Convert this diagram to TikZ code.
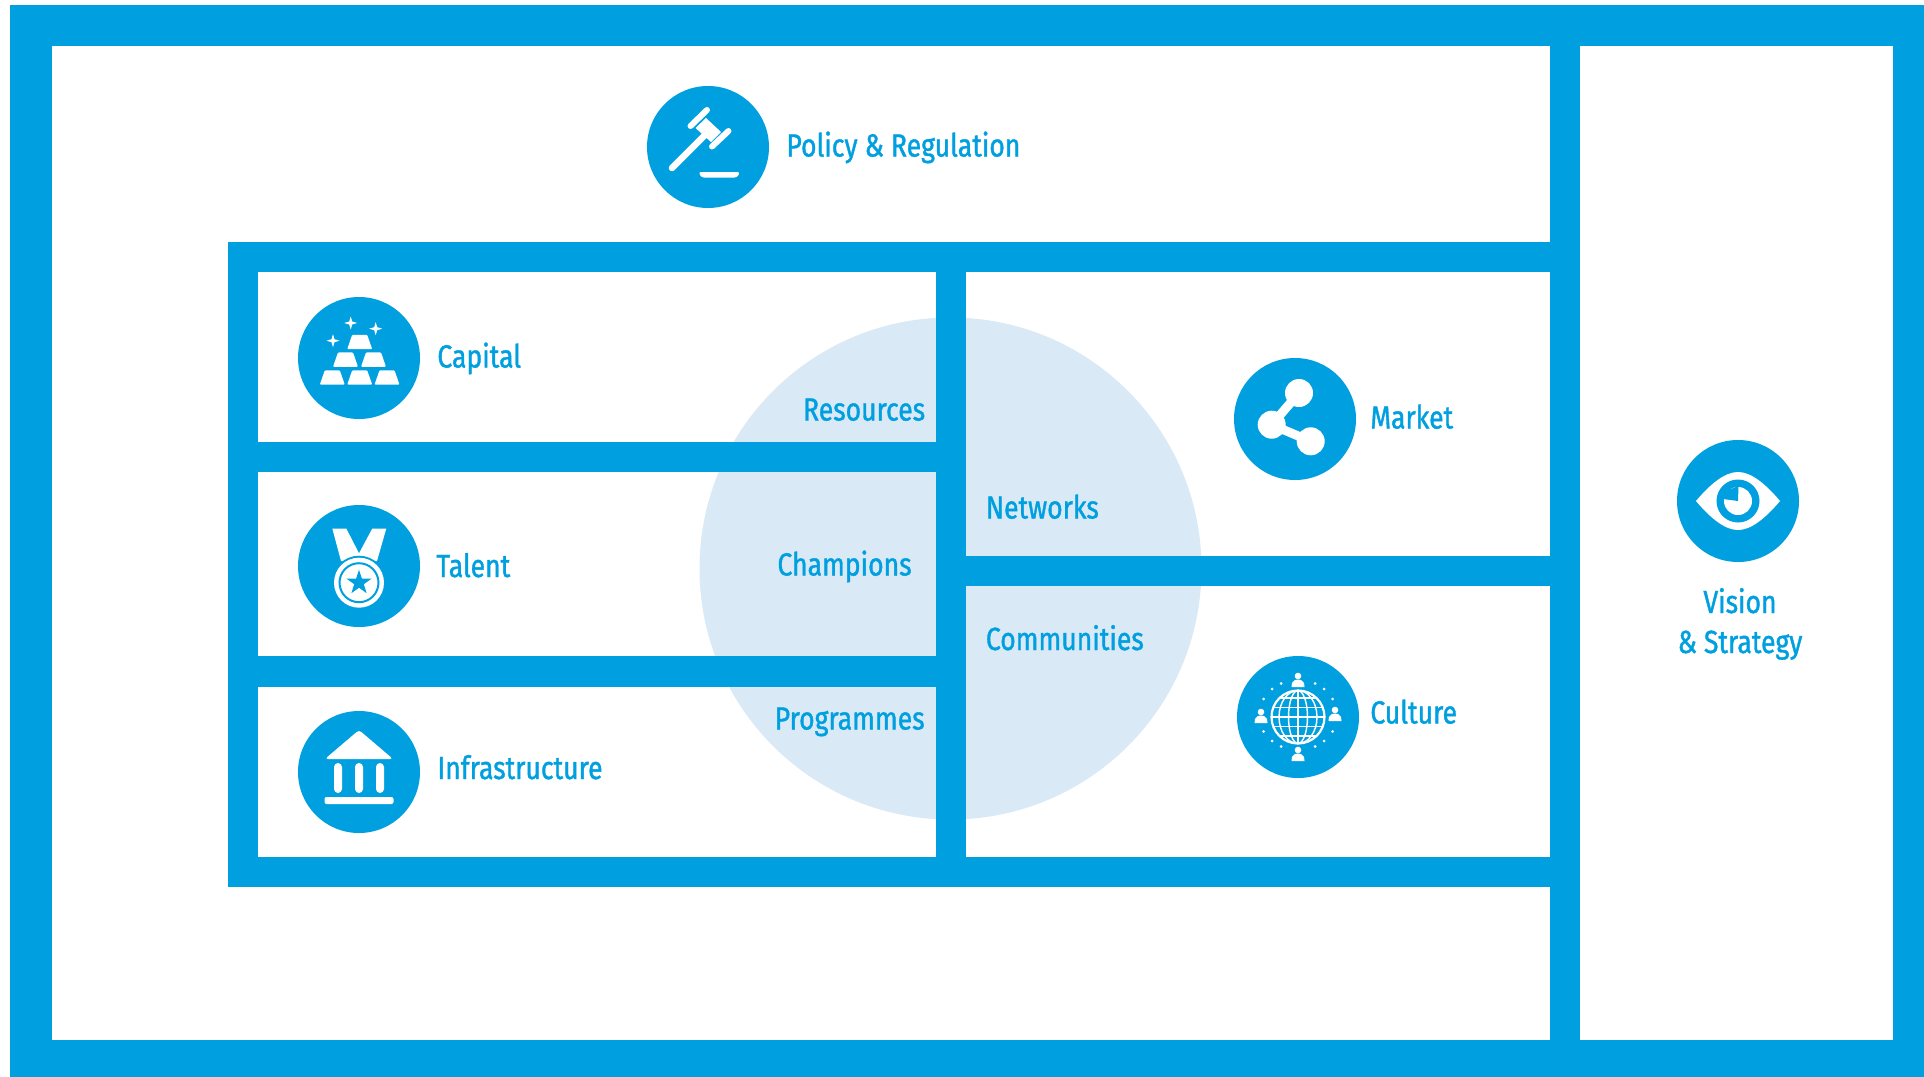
\documentclass[tikz,border=0pt]{standalone}
\usepackage{fontspec}
\setmainfont{Fira Sans}[FakeStretch=0.83,FakeBold=1.2]
\definecolor{brand}{RGB}{0,160,224}
\definecolor{pale}{RGB}{218,233,246}
\newcommand{\goldbar}[2]{\fill[white,rounded corners=0.5pt] (#1-12.5,#2+7.2) -- (#1-7.5,#2-7.2) -- (#1+7.5,#2-7.2) -- (#1+12.5,#2+7.2) -- cycle;}
\newcommand{\sparkle}[2]{\fill[white] (#1,#2-6.5) -- (#1+1.5,#2-1.5) -- (#1+6.5,#2) -- (#1+1.5,#2+1.5) -- (#1,#2+6.5) -- (#1-1.5,#2+1.5) -- (#1-6.5,#2) -- (#1-1.5,#2-1.5) -- cycle;}
\newcommand{\person}[2]{\fill[white] (#1,#2-4) circle[radius=3.3];
  \fill[white] (#1-6.5,#2+7) -- (#1-6,#2+3) .. controls (#1-5,#2) and (#1-2,#2-0.5) .. (#1,#2-0.5) .. controls (#1+2,#2-0.5) and (#1+5,#2) .. (#1+6,#2+3) -- (#1+6.5,#2+7) -- cycle;}
\tikzset{
  panel/.style={fill=white},
  bar/.style={fill=brand},
  icondisc/.style={circle,fill=brand,minimum size=61pt,inner sep=0pt},
  lab/.style={text=brand,font=\fontsize{16}{19}\selectfont,inner sep=0pt,anchor=base west},
  labr/.style={lab,anchor=base east},
  labc/.style={lab,anchor=base},
  cut/.style={draw=white,line cap=round}
}
\begin{document}
\begin{tikzpicture}[x=0.5pt,y=-0.5pt]
\useasboundingbox (0,0) rectangle (1924,1077);
% frame
\fill[white] (0,0) rectangle (1924,1077);
\fill[bar] (10,5) rectangle (1924,1077);
\fill[panel] (52,46) rectangle (1550,1040);
\fill[panel] (1580,46) rectangle (1893,1040);
\fill[bar] (228,242) rectangle (1550,887);
\fill[panel] (258,272) rectangle (936,442);
\fill[panel] (258,472) rectangle (936,656);
\fill[panel] (258,687) rectangle (936,857);
\fill[panel] (966,272) rectangle (1550,556);
\fill[panel] (966,586) rectangle (1550,857);
% pale disc
\fill[pale] (950.5,568.5) circle[radius=251];
\fill[bar] (936,272) rectangle (966,857);
\fill[bar] (258,442) rectangle (936,472);
\fill[bar] (258,656) rectangle (936,687);
\fill[bar] (966,556) rectangle (1550,586);
% discs
\node[icondisc] (policy) at (708,147) {};
\node[icondisc] (capital) at (359,358) {};
\node[icondisc] (talent) at (359,566) {};
\node[icondisc] (infra) at (359,772) {};
\node[icondisc] (market) at (1295,419) {};
\node[icondisc] (culture) at (1298,717) {};
\node[icondisc] (vision) at (1738,501) {};
% gavel
\begin{scope}[shift={(708,147)}]
  \draw[cut,line width=3.3pt] (-36,21) -- (-3,-12);
  \draw[cut,line width=3pt] (-17.5,-21) -- (-1,-37);
  \draw[cut,line width=3pt] (4,-0.5) -- (20.5,-16);
  \fill[white] (-12.5,-19) -- (-2,-29) -- (13,-15) -- (3,-5) -- cycle;
  \fill[white,rounded corners=1.2pt] (-9.5,25) -- (32,25) -- (29,30.5) -- (-6.5,30.5) -- cycle;
\end{scope}
% gold bars
\begin{scope}[shift={(359,358)}]
  \goldbar{-26.7}{19.5}\goldbar{0.7}{19.5}\goldbar{28}{19.5}
  \goldbar{-13.5}{1.6}\goldbar{14.5}{1.6}
  \goldbar{0.7}{-16}
  \sparkle{-8.3}{-35}\sparkle{16.7}{-29.3}\sparkle{-26}{-17.3}
\end{scope}
% medal
\begin{scope}[shift={(359,566)}]
  \fill[white] (-26.7,-37.5) -- (-12.7,-37.5) -- (0,-12.7) -- (13.3,-37.5) -- (27.3,-37.5) -- (18,-5) -- (-18,-5) -- cycle;
  \fill[brand] (0,16.7) circle[radius=27];
  \fill[white] (0,16.7) circle[radius=25];
  \draw[brand,line width=1pt] (0,16.7) circle[radius=19.5];
  \begin{scope}[shift={(0,16.7)}]
    \fill[brand] (0,-13) -- (2.9,-4) -- (12.4,-4) -- (4.8,1.5) -- (7.6,10.5) -- (0,5) -- (-7.6,10.5) -- (-4.8,1.5) -- (-12.4,-4) -- (-2.9,-4) -- cycle;
  \end{scope}
\end{scope}
% temple
\begin{scope}[shift={(359,772)}]
  \fill[white,rounded corners=1.5pt] (0,-42) -- (34,-13) -- (-34,-13) -- cycle;
  \fill[white,rounded corners=2pt] (-25,-9) rectangle (-17,21);
  \fill[white,rounded corners=2pt] (-4,-9) rectangle (4,21);
  \fill[white,rounded corners=2pt] (17,-9) rectangle (25,21);
  \fill[white,rounded corners=1pt] (-34.5,25) rectangle (34.5,32);
\end{scope}
% share
\begin{scope}[shift={(1295,419)}]
  \draw[white,line width=4.5pt] (4,-26) -- (-23.3,5.7) -- (15.7,22.3);
  \fill[white] (4,-26) circle[radius=14];
  \fill[white] (-23.3,5.7) circle[radius=14];
  \fill[white] (15.7,22.3) circle[radius=14];
\end{scope}
% globe
\begin{scope}[shift={(1298,717)}]
  \draw[white,line width=1.1pt] (0,0) circle[radius=26.5];
  \draw[white,line width=0.7pt] (0,-26.5) -- (0,26.5);
  \draw[white,line width=0.7pt] (0,0) ellipse[x radius=9.5,y radius=26.5];
  \draw[white,line width=0.7pt] (0,0) ellipse[x radius=19,y radius=26.5];
  \draw[white,line width=0.7pt] (-26.5,0) -- (26.5,0);
  \draw[white,line width=0.7pt] (-24.8,-9.5) -- (24.8,-9.5);
  \draw[white,line width=0.7pt] (-24.8,9.5) -- (24.8,9.5);
  \draw[white,line width=0.7pt] (-18.7,-19) -- (18.7,-19);
  \draw[white,line width=0.7pt] (-18.7,19) -- (18.7,19);
  \person{0}{-37}\person{0}{37}\person{-37}{-1}\person{37}{-3}
  \foreach \a/\b in {-17/-33.5,-26/-28,-34.5/-18,-34.5/14.5,-26/24,-17/29.5,17/-33.5,26/-28,34.5/-18,34.5/14.5,26/24,17/29.5}
    \fill[white] (\a,\b) circle[radius=1.5];
\end{scope}
% eye
\begin{scope}[shift={(1738,501)}]
  \fill[white] (-42,0) .. controls (-26,-19) and (-12,-29) .. (0,-29) .. controls (12,-29) and (26,-19) .. (42,0) .. controls (26,19) and (12,29) .. (0,29) .. controls (-12,29) and (-26,19) .. (-42,0) -- cycle;
  \fill[brand] (0,0) circle[radius=21.5];
  \fill[white] (0,0) circle[radius=14];
  \fill[brand] (0,0) -- (0.5,-15) -- (-12,-10) -- (-15,-2) -- cycle;
\end{scope}
% labels
\node[lab] (tpolicy) at (786,156.5) {Policy \& Regulation};
\node[lab] (tcapital) at (437,367.5) {Capital};
\node[lab] (ttalent) at (436,577) {Talent};
\node[lab] (tinfra) at (437,779) {Infrastructure};
\node[lab] (tmarket) at (1370,428.5) {Market};
\node[lab] (tculture) at (1370,723.5) {Culture};
\node[labr] (tres) at (925.5,420.5) {Resources};
\node[labr] (tchamp) at (912,575.5) {Champions};
\node[labr] (tprog) at (925,729.5) {Programmes};
\node[lab] (tnet) at (985.5,518.5) {Networks};
\node[lab] (tcomm) at (985.5,650) {Communities};
\node[labc] (tvision) at (1740,613) {Vision};
\node[labc] (tstrat) at (1740,653) {\& Strategy};
\end{tikzpicture}
\end{document}
